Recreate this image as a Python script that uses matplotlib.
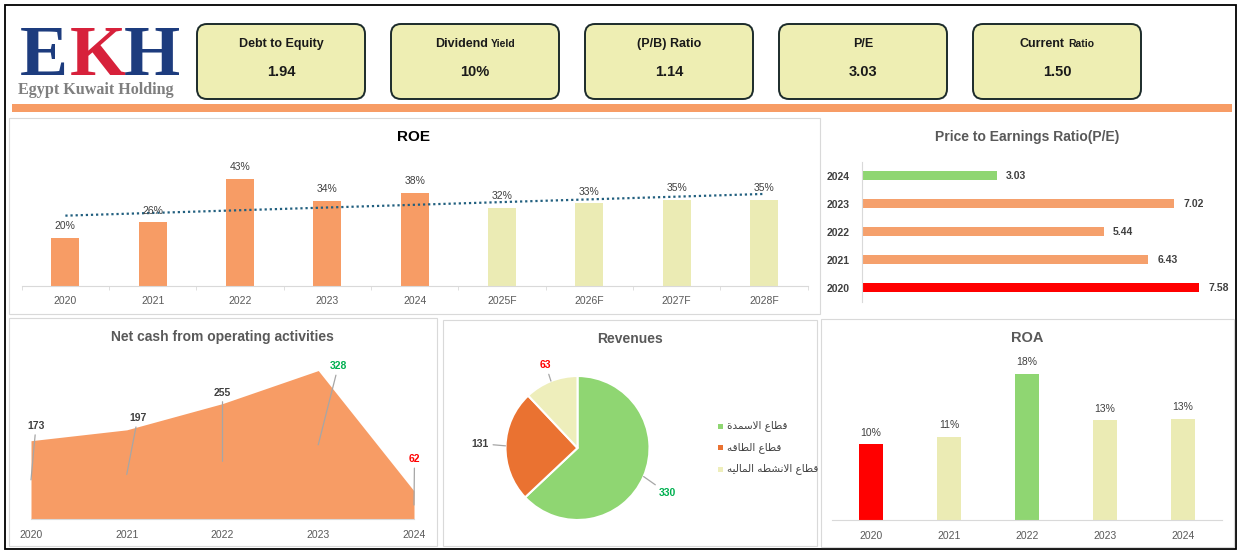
import numpy as np
import matplotlib
matplotlib.use('Agg')
import matplotlib.pyplot as plt
from matplotlib.patches import Rectangle, FancyBboxPatch
from matplotlib.transforms import offset_copy
from matplotlib import font_manager

# ---------------- data ----------------
kpi_titles = ['Debt to Equity', 'Dividend', '(P/B) Ratio', 'P/E', 'Current']
kpi_title_suffix = ['', 'Yield', '', '', 'Ratio']
kpi_values = ['1.94', '10%', '1.14', '3.03', '1.50']

roe_years = ['2020', '2021', '2022', '2023', '2024', '2025F', '2026F', '2027F', '2028F']
roe_values = [0.196, 0.257, 0.433, 0.344, 0.376, 0.316, 0.334, 0.348, 0.348]
roe_actual_count = 5

pe_years = ['2020', '2021', '2022', '2023', '2024']
pe_values = [7.58, 6.43, 5.44, 7.02, 3.03]

cash_years = ['2020', '2021', '2022', '2023', '2024']
cash_values = [173, 197, 255, 328, 62]

rev_segments = ['قطاع الاسمدة', 'قطاع الطاقه', 'قطاع الانشطه الماليه']
rev_values = [330, 131, 63]

roa_years = ['2020', '2021', '2022', '2023', '2024']
roa_values = [0.0952, 0.1053, 0.1848, 0.1256, 0.1281]

# ---------------- style ----------------
SALMON = '#f79c65'
YELLOW = '#ebebb4'
GREEN = '#8fd672'
RED = '#ff0000'
CARD = '#eeeeb3'
PIE_ORANGE = '#ea7231'
PIE_YELLOW = '#eeeebb'
TXT_GREEN = '#00b050'
GRAYTXT = '#404040'
TITLEGRAY = '#595959'
BORDER = '#d9d9d9'

names = {f.name for f in font_manager.fontManager.ttflist}
NARROW = 'Liberation Sans Narrow' if 'Liberation Sans Narrow' in names else 'Liberation Sans'
plt.rcParams['font.family'] = ['Liberation Sans', 'DejaVu Sans']

# simple Arabic shaping (presentation forms) for matplotlib's LTR renderer
_AR_FORMS = {
    '\u0627': ('\ufe8d', '\ufe8e', None, None),
    '\u062f': ('\ufea9', '\ufeaa', None, None),
    '\u0629': ('\ufe93', '\ufe94', None, None),
    '\u0644': ('\ufedd', '\ufede', '\ufedf', '\ufee0'),
    '\u0633': ('\ufeb1', '\ufeb2', '\ufeb3', '\ufeb4'),
    '\u0634': ('\ufeb5', '\ufeb6', '\ufeb7', '\ufeb8'),
    '\u0645': ('\ufee1', '\ufee2', '\ufee3', '\ufee4'),
    '\u0642': ('\ufed5', '\ufed6', '\ufed7', '\ufed8'),
    '\u0637': ('\ufec1', '\ufec2', '\ufec3', '\ufec4'),
    '\u0639': ('\ufec9', '\ufeca', '\ufecb', '\ufecc'),
    '\u0647': ('\ufee9', '\ufeea', '\ufeeb', '\ufeec'),
    '\u0646': ('\ufee5', '\ufee6', '\ufee7', '\ufee8'),
    '\u064a': ('\ufef1', '\ufef2', '\ufef3', '\ufef4'),
    'LA': ('\ufefb', '\ufefc', None, None),
}


def shape_ar(s):
    toks = []
    i = 0
    while i < len(s):
        if s[i] == '\u0644' and i + 1 < len(s) and s[i + 1] == '\u0627':
            toks.append('LA')
            i += 2
        else:
            toks.append(s[i])
            i += 1
    out = []
    for k, t in enumerate(toks):
        if t not in _AR_FORMS:
            out.append(t)
            continue
        iso, fin, ini, med = _AR_FORMS[t]
        prev = toks[k - 1] if k > 0 else None
        nxt = toks[k + 1] if k + 1 < len(toks) else None
        jp = prev in _AR_FORMS and _AR_FORMS[prev][2] is not None
        jn = ini is not None and nxt in _AR_FORMS
        if jp and jn:
            g = med
        elif jp:
            g = fin
        elif jn:
            g = ini
        else:
            g = iso
        out.append(g)
    return ''.join(reversed(out))


W, H = 1243, 555
fig = plt.figure(figsize=(W / 100, H / 100), dpi=100)
fig.patch.set_facecolor('white')
bg = fig.add_axes([0, 0, 1, 1], zorder=0)
bg.set_xlim(0, W)
bg.set_ylim(H, 0)
bg.axis('off')


def add_ax(x0, y0, x1, y1):
    a = fig.add_axes([x0 / W, 1 - y1 / H, (x1 - x0) / W, (y1 - y0) / H], zorder=2)
    a.patch.set_alpha(0)
    return a


# frame and panels
bg.add_patch(Rectangle((5, 5), 1231, 544, fill=False, ec='black', lw=1.3))
for (x0, y0, x1, y1) in [(9, 118, 820, 314), (9, 318, 437, 546),
                         (443, 320, 817, 546), (821, 319, 1234, 547)]:
    bg.add_patch(Rectangle((x0, y0), x1 - x0, y1 - y0, fill=False, ec=BORDER, lw=0.8))

# logo
for letter, cx, col in [('E', 44, '#1d3c7e'), ('K', 98, '#d7213b'), ('H', 152, '#1d3c7e')]:
    bg.text(cx, 75, letter, fontsize=52, fontweight='bold', family='Liberation Serif',
            color=col, ha='center', va='baseline')
bg.text(18, 94, 'Egypt Kuwait Holding', fontsize=11.6, fontweight='bold',
        family='Liberation Serif', color='#7f7f7f', ha='left', va='baseline')

# KPI cards
renderer = fig.canvas.get_renderer()
for i, (t, suf, v) in enumerate(zip(kpi_titles, kpi_title_suffix, kpi_values)):
    x = 197 + 194 * i
    bg.add_patch(FancyBboxPatch((x, 24), 168, 75, boxstyle='round,pad=0,rounding_size=10',
                                fc=CARD, ec='#1c2b2b', lw=1.4))
    cx = x + 84
    t1 = bg.text(cx, 47, t, fontsize=9, fontweight='bold', family=NARROW,
                 color='#1a1a1a', ha='left', va='baseline')
    w1 = t1.get_window_extent(renderer).width
    if suf:
        t2 = bg.text(cx, 47, suf, fontsize=7.5, fontweight='bold', family=NARROW,
                     color='#1a1a1a', ha='left', va='baseline')
        w2 = t2.get_window_extent(renderer).width
        start = cx - (w1 + 3 + w2) / 2
        t1.set_x(start)
        t2.set_x(start + w1 + 3)
    else:
        t1.set_x(cx - w1 / 2)
    bg.text(cx, 72, v, fontsize=10.5, fontweight='bold', family=NARROW,
            color='#1a1a1a', ha='center', va='center')

# orange separator
bg.add_patch(Rectangle((12, 104), 1220, 8, fc=SALMON, ec='none'))

# titles
bg.text(414, 137, 'ROE', fontsize=11, fontweight='bold', family=NARROW, color='black',
        ha='center', va='center')
bg.text(1027, 137.5, 'Price to Earnings Ratio(P/E)', fontsize=10, fontweight='bold',
        family=NARROW, color=TITLEGRAY, ha='center', va='center')
bg.text(222, 337, 'Net cash from operating activities', fontsize=10, fontweight='bold',
        family=NARROW, color=TITLEGRAY, ha='center', va='center')
bg.text(630, 339, 'Revenues', fontsize=10, fontweight='bold', family=NARROW,
        color=TITLEGRAY, ha='center', va='center')
bg.text(1027, 338, 'ROA', fontsize=10.5, fontweight='bold', family=NARROW,
        color=TITLEGRAY, ha='center', va='center')


def clean(ax, bottom=True):
    for s in ['top', 'right', 'left']:
        ax.spines[s].set_visible(False)
    ax.spines['bottom'].set_visible(bottom)
    ax.spines['bottom'].set_color(BORDER)
    ax.set_yticks([])


# ---------------- ROE ----------------
ax = add_ax(21.7, 150, 807.7, 286.3)
x = np.arange(len(roe_values))
cols = [SALMON if i < roe_actual_count else YELLOW for i in x]
ax.bar(x, roe_values, width=0.32, color=cols)
coef = np.polyfit(x, roe_values, 1)
ax.plot(x, np.polyval(coef, x), ls=(0, (1, 1.3)), color='#215f7f', lw=1.6)
for xi, v in zip(x, roe_values):
    ax.annotate(f'{v:.0%}', (xi, v), xytext=(0, 11.5), textcoords='offset pixels',
                ha='center', va='center', fontsize=7.5, color=GRAYTXT)
ax.set_xlim(-0.5, len(x) - 0.5)
ax.set_ylim(0, 0.5485)
clean(ax)
ax.set_xticks(x, roe_years)
ax.set_xticks(np.arange(-0.5, len(x), 1), minor=True)
ax.tick_params(axis='x', which='major', length=0, pad=7, labelsize=7.5, labelcolor=TITLEGRAY)
ax.tick_params(axis='x', which='minor', length=3, color=BORDER)

# ---------------- P/E ----------------
ax = add_ax(862, 161.7, 1225, 301.7)
y = np.arange(len(pe_values))
pe_colors = [RED if v == max(pe_values) else GREEN if v == min(pe_values) else '#f5a06c'
             for v in pe_values]
ax.barh(y, pe_values, height=0.32, color=pe_colors)
for yi, v in zip(y, pe_values):
    ax.annotate(f'{v:.2f}', (v, yi), xytext=(9, 0), textcoords='offset pixels',
                ha='left', va='center', fontsize=7.5, fontweight='bold', color=GRAYTXT)
ax.set_xlim(0, 8.157)
ax.set_ylim(-0.5, len(y) - 0.5)
for s in ['top', 'right', 'bottom']:
    ax.spines[s].set_visible(False)
ax.spines['left'].set_color(BORDER)
ax.set_xticks([])
ax.set_yticks(y, pe_years)
ax.tick_params(axis='y', length=0, pad=9, labelsize=7.5, labelcolor=GRAYTXT)
for lab in ax.get_yticklabels():
    lab.set_fontweight('bold')

# ---------------- Net cash ----------------
ax = add_ax(31, 360, 414, 519)
x = np.arange(len(cash_values))
ax.fill_between(x, cash_values, color=SALMON, lw=0)
ax.set_xlim(0, len(x) - 1)
ax.set_ylim(0, 351.3)
clean(ax)
ax.set_xticks(x, cash_years)
ax.tick_params(axis='x', length=0, pad=8, labelsize=7.5, labelcolor=TITLEGRAY)
cash_label_offsets = [(5, 15), (11, 12), (0, 11), (20, 4.5), (0.5, 32)]
for xi, v, (dx, dy) in zip(x, cash_values, cash_label_offsets):
    c = TXT_GREEN if v == max(cash_values) else RED if v == min(cash_values) else GRAYTXT
    ax.annotate(str(v), xy=(xi, v / 2), xytext=(xi, v),
                textcoords=offset_copy(ax.transData, fig=fig, x=dx, y=dy, units='dots'),
                ha='center', va='center', fontsize=7.5, fontweight='bold', color=c,
                arrowprops=dict(arrowstyle='-', color='#a6a6a6', lw=0.9, shrinkA=1, shrinkB=0),
                annotation_clip=False)

# ---------------- Revenues pie ----------------
ax = add_ax(505.5, 376, 649.5, 520)
pie_cols = [GREEN, PIE_ORANGE, PIE_YELLOW]
wedges, _ = ax.pie(rev_values, colors=pie_cols, startangle=90, counterclock=False,
                   wedgeprops=dict(edgecolor='white', linewidth=1.5))
ax.set_xlim(-1, 1)
ax.set_ylim(-1, 1)
rev_label_pos = [(1.25, -0.63), (-1.35, 0.06), (-0.44, 1.15)]
for w, v, pos in zip(wedges, rev_values, rev_label_pos):
    ang = np.deg2rad((w.theta1 + w.theta2) / 2)
    c = TXT_GREEN if v == max(rev_values) else RED if v == min(rev_values) else GRAYTXT
    ax.annotate(str(v), xy=(np.cos(ang), np.sin(ang)), xytext=pos, ha='center', va='center',
                fontsize=7.5, fontweight='bold', color=c,
                arrowprops=dict(arrowstyle='-', color='#a6a6a6', lw=0.9, shrinkA=1, shrinkB=0),
                annotation_clip=False)
for i, (lbl, col) in enumerate(zip(rev_segments, pie_cols)):
    yy = 426 + 21.5 * i
    bg.add_patch(Rectangle((718.5, yy - 2.5), 5, 5, fc=col, ec='none'))
    bg.text(727, yy, shape_ar(lbl), family='DejaVu Sans', fontsize=7.5, color=GRAYTXT,
            ha='left', va='center')

# ---------------- ROA ----------------
ax = add_ax(832, 355, 1222, 519.7)
x = np.arange(len(roa_values))
roa_colors = [RED if v == min(roa_values) else GREEN if v == max(roa_values) else YELLOW
              for v in roa_values]
ax.bar(x, roa_values, width=0.32, color=roa_colors)
for xi, v in zip(x, roa_values):
    ax.annotate(f'{v:.0%}', (xi, v), xytext=(0, 11.3), textcoords='offset pixels',
                ha='center', va='center', fontsize=7.5, color=GRAYTXT)
ax.set_xlim(-0.5, len(x) - 0.5)
ax.set_ylim(0, 0.2085)
clean(ax)
ax.set_xticks(x, roa_years)
ax.tick_params(axis='x', length=0, pad=8, labelsize=7.5, labelcolor=TITLEGRAY)

fig.savefig('out.png', dpi=100, facecolor='white')
